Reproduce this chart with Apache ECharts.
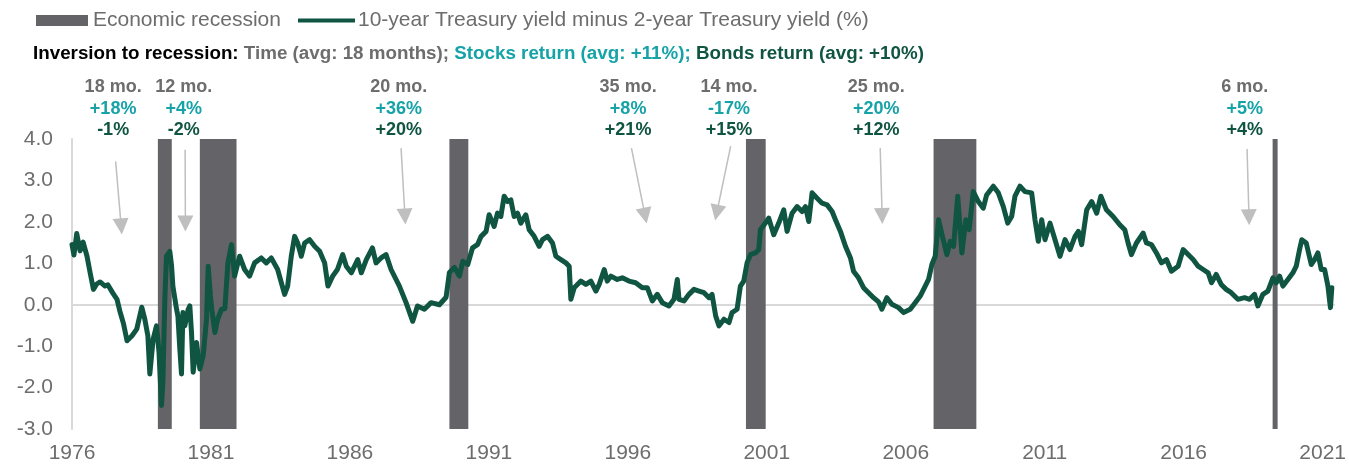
<!DOCTYPE html>
<html>
<head>
<meta charset="utf-8">
<script src="https://cdn.jsdelivr.net/npm/echarts@6/dist/echarts.min.js"></script>
<style>
html,body{margin:0;padding:0;background:#fff;}
#chart{width:1349px;height:464px;}
</style>
</head>
<body>
<div id="chart"></div>
<script>
// ---------------- DATA ----------------
const startYear = 1976;
const xTickLabels = ['1976','1981','1986','1991','1996','2001','2006','2011','2016','2021'];
const yTickLabels = ['-3.0','-2.0','-1.0','0.0','1.0','2.0','3.0','4.0'];

// decimal year (on the chart's label scale) and 10y-2y spread (%)
const dates = [
1976.00,1976.07,1976.17,1976.29,1976.40,1976.54,1976.65,1976.77,1976.89,1977.01,
1977.19,1977.29,1977.47,1977.62,1977.72,1977.85,1977.98,1978.16,1978.33,1978.51,
1978.62,1978.73,1978.80,1978.92,1979.04,1979.13,1979.22,1979.27,1979.34,1979.40,
1979.52,1979.58,1979.63,1979.76,1979.81,1979.88,1979.94,1979.99,1980.06,1980.18,
1980.24,1980.30,1980.36,1980.48,1980.60,1980.72,1980.84,1980.90,1980.98,1981.03,
1981.14,1981.24,1981.38,1981.50,1981.61,1981.74,1981.85,1982.03,1982.21,1982.39,
1982.57,1982.81,1982.99,1983.17,1983.40,1983.65,1983.76,1983.89,1984.01,1984.12,
1984.25,1984.37,1984.55,1984.73,1984.91,1985.09,1985.21,1985.38,1985.55,1985.74,
1985.87,1986.05,1986.28,1986.41,1986.59,1986.81,1986.94,1987.12,1987.30,1987.48,
1987.78,1988.02,1988.26,1988.43,1988.68,1988.92,1989.22,1989.46,1989.58,1989.76,
1989.94,1990.06,1990.24,1990.41,1990.59,1990.72,1990.90,1991.01,1991.19,1991.31,
1991.43,1991.55,1991.67,1991.79,1991.91,1992.03,1992.15,1992.33,1992.45,1992.63,
1992.81,1992.93,1993.11,1993.29,1993.41,1993.59,1993.77,1993.89,1993.95,1994.07,
1994.31,1994.49,1994.67,1994.85,1994.97,1995.15,1995.26,1995.39,1995.62,1995.80,
1996.04,1996.28,1996.52,1996.70,1996.88,1997.06,1997.24,1997.48,1997.66,1997.78,
1997.84,1998.02,1998.20,1998.38,1998.56,1998.74,1998.92,1999.03,1999.16,1999.28,
1999.46,1999.64,1999.75,1999.93,2000.05,2000.17,2000.29,2000.41,2000.59,2000.71,
2000.77,2000.95,2001.07,2001.25,2001.43,2001.61,2001.73,2001.91,2002.09,2002.27,
2002.39,2002.51,2002.63,2002.81,2002.99,2003.17,2003.35,2003.47,2003.65,2003.83,
2004.01,2004.12,2004.30,2004.48,2004.66,2004.84,2005.02,2005.14,2005.32,2005.50,
2005.74,2005.92,2006.16,2006.34,2006.52,2006.70,2006.82,2006.94,2007.06,2007.18,
2007.29,2007.48,2007.60,2007.72,2007.87,2008.02,2008.16,2008.28,2008.43,2008.61,
2008.79,2008.91,2009.15,2009.33,2009.51,2009.67,2009.81,2009.93,2010.11,2010.29,
2010.53,2010.65,2010.77,2010.89,2011.01,2011.19,2011.37,2011.55,2011.73,2011.91,
2012.09,2012.21,2012.33,2012.51,2012.69,2012.87,2013.02,2013.22,2013.46,2013.70,
2013.88,2014.00,2014.12,2014.30,2014.54,2014.66,2014.84,2015.02,2015.20,2015.38,
2015.56,2015.80,2015.98,2016.16,2016.34,2016.52,2016.70,2016.88,2017.00,2017.17,
2017.35,2017.53,2017.71,2017.95,2018.19,2018.37,2018.55,2018.67,2018.85,2019.03,
2019.21,2019.33,2019.45,2019.57,2019.75,2019.93,2020.05,2020.17,2020.25,2020.41,
2020.59,2020.71,2020.83,2020.95,2021.07,2021.19,2021.28,2021.33
];
const spread = [
1.45,1.20,1.72,1.30,1.51,1.17,0.78,0.37,0.50,0.55,
0.45,0.48,0.28,0.13,-0.15,-0.45,-0.87,-0.75,-0.59,-0.06,
-0.35,-0.75,-1.67,-0.83,-0.51,-1.14,-2.43,-1.87,0.13,1.17,
1.29,0.96,0.45,-0.10,-0.27,-1.07,-1.67,-0.19,-0.51,-0.11,
-0.03,-0.67,-1.63,-0.91,-1.55,-1.23,-0.35,0.93,0.21,-0.11,
-0.67,-0.35,-0.11,-0.10,1.01,1.45,0.69,1.17,0.85,0.69,
1.01,1.13,1.01,1.13,0.85,0.25,0.45,1.17,1.65,1.49,
1.17,1.49,1.57,1.41,1.29,1.01,0.45,0.69,0.85,1.21,
0.93,0.77,1.09,0.77,1.09,1.37,1.01,1.13,1.21,0.85,
0.45,0.05,-0.40,-0.03,-0.11,0.05,0.00,0.18,0.78,0.90,
0.69,1.05,0.97,1.37,1.45,1.65,1.77,2.17,1.89,2.21,
2.13,2.62,2.49,2.53,2.13,2.21,1.97,2.17,1.81,1.65,
1.41,1.57,1.65,1.49,1.17,1.09,1.01,0.93,0.13,0.41,
0.57,0.49,0.57,0.33,0.49,0.85,0.57,0.69,0.61,0.65,
0.57,0.53,0.41,0.41,0.09,0.25,0.05,-0.03,0.13,0.61,
0.13,0.09,0.25,0.37,0.33,0.29,0.17,0.25,-0.27,-0.51,
-0.35,-0.43,-0.19,-0.11,0.45,0.57,1.01,1.21,1.25,1.33,
1.81,1.97,2.09,1.69,1.97,2.29,1.77,2.21,2.37,2.25,
2.37,2.01,2.70,2.57,2.45,2.41,2.25,2.05,1.77,1.41,
1.13,0.81,0.65,0.41,0.29,0.17,0.07,-0.11,0.17,0.01,
-0.07,-0.19,-0.11,0.05,0.21,0.45,0.61,0.97,1.17,2.05,
1.73,1.21,1.53,1.41,2.62,1.25,2.05,1.81,2.73,2.49,
2.33,2.65,2.86,2.70,2.37,1.97,2.13,2.62,2.86,2.73,
2.70,2.05,1.53,2.05,1.57,1.97,1.57,1.17,1.57,1.33,
1.65,1.77,1.45,2.29,2.49,2.21,2.62,2.29,2.13,1.93,
1.81,1.49,1.21,1.49,1.73,1.49,1.45,1.25,1.01,1.09,
0.81,0.93,1.33,1.21,1.09,0.93,0.85,0.77,0.53,0.73,
0.49,0.37,0.29,0.13,0.17,0.13,0.25,-0.03,0.25,0.33,
0.65,0.53,0.69,0.45,0.61,0.77,0.93,1.33,1.57,1.49,
0.97,1.09,1.25,0.85,0.85,0.45,-0.07,0.41
];

// recession periods (same label scale as dates)
const recessionStart = [1979.09, 1980.60, 1989.58, 2000.25, 2007.00, 2019.20];
const recessionEnd   = [1979.59, 1981.92, 1990.26, 2000.96, 2008.54, 2019.38];

// inversion-to-recession annotations
const annoTime   = ['18 mo.','12 mo.','20 mo.','35 mo.','14 mo.','25 mo.','6 mo.'];
const annoStocks = ['+18%','+4%','+36%','+8%','-17%','+20%','+5%'];
const annoBonds  = ['-1%','-2%','+20%','+21%','+15%','+12%','+4%'];

const legendNames = ['Economic recession','10-year Treasury yield minus 2-year Treasury yield (%)'];

// ---------------- LAYOUT / STYLE ----------------
const annoX = [1977.48, 1980.02, 1987.76, 1996.01, 1999.64, 2004.94, 2018.20]; // label centres
// arrows: [fromYear, fromValue, toYear, toValue] (arrow head centre at "to")
const arrowPos = [
  [1977.57,3.46,1977.77,1.89],
  [1980.07,3.74,1980.08,1.96],
  [1987.84,3.78,1987.98,2.13],
  [1996.13,3.78,1996.62,2.15],
  [1999.70,3.83,1999.20,2.22],
  [2005.08,3.78,2005.15,2.14],
  [2018.28,3.76,2018.35,2.11]
];
const C_LINE = '#0f5541';
const C_REC = '#646368';
const C_GRAY = '#6d6d6d';
const C_TEAL = '#16a3a8';
const C_DKGREEN = '#0f5541';
const C_ARROW = '#bfbfbf';
const SANS = "'Liberation Sans',Arial,Helvetica,sans-serif";
const SUB = 18.8;
const xMax = 45.44;

const chart = echarts.init(document.getElementById('chart'), null, {renderer:'canvas'});

const lineData = dates.map((d,i)=>[d-startYear, spread[i]]);
const recAreas = recessionStart.map((s,i)=>[{xAxis:s-startYear},{xAxis:recessionEnd[i]-startYear}]);
const arrowData = arrowPos.map(a=>[{coord:[a[0]-startYear,a[1]]},{coord:[a[2]-startYear,a[3]]}]);

const option = {
  animation:false,
  backgroundColor:'#fff',
  title:{
    left:33, top:44, padding:0,
    text:'{k|Inversion to recession:} {g|Time (avg: 18 months);} {t|Stocks return (avg: +11%);} {d|Bonds return (avg: +10%)}',
    textStyle:{
      fontFamily:SANS, fontSize:SUB, fontWeight:'bold', color:'#000',
      rich:{
        k:{fontFamily:SANS, fontSize:SUB, fontWeight:'bold', color:'#000'},
        g:{fontFamily:SANS, fontSize:SUB, fontWeight:'bold', color:C_GRAY},
        t:{fontFamily:SANS, fontSize:SUB, fontWeight:'bold', color:C_TEAL},
        d:{fontFamily:SANS, fontSize:SUB, fontWeight:'bold', color:C_DKGREEN}
      }
    }
  },
  legend:[
    {data:[legendNames[0]], left:36, top:10, padding:0, icon:'rect', itemWidth:52, itemHeight:11,
     textStyle:{fontFamily:SANS, fontSize:21, color:C_GRAY, padding:[0,0,0,0]}},
    {data:[legendNames[1]], left:298, top:10, padding:0, icon:'rect', itemWidth:57, itemHeight:4,
     textStyle:{fontFamily:SANS, fontSize:21, color:C_GRAY, padding:[0,0,0,-2]}}
  ],
  grid:{left:72, right:12, top:139, bottom:34, containLabel:false},
  xAxis:{
    type:'value', min:0, max:xMax, interval:5,
    axisLine:{show:false}, axisTick:{show:false}, splitLine:{show:false},
    axisLabel:{
      margin:14, fontFamily:SANS, fontSize:21, color:C_GRAY, showMaxLabel:false,
      formatter:function(v){ const i=Math.round(v/5); return (Math.abs(v-i*5)<1e-6 && xTickLabels[i])?xTickLabels[i]:''; }
    }
  },
  yAxis:{
    type:'value', min:-3, max:4, interval:1,
    axisLine:{show:true, lineStyle:{color:'#d9d9d9', width:2}},
    axisTick:{show:false}, splitLine:{show:false},
    axisLabel:{
      margin:19, fontFamily:SANS, fontSize:21, color:C_GRAY,
      formatter:function(v){ const i=Math.round(v+3); return yTickLabels[i]||''; }
    }
  },
  series:[
    {
      type:'line', data:[], silent:true,
      markLine:{z:0, silent:true, symbol:['none','none'], label:{show:false},
        lineStyle:{color:'#d9d9d9', width:2, type:'solid'}, data:[{yAxis:0}]}
    },
    {
      name:legendNames[0], type:'line', data:[], silent:true,
      itemStyle:{color:C_REC}, lineStyle:{color:C_REC},
      markArea:{z:1, silent:true, itemStyle:{color:C_REC, opacity:1}, data:recAreas}
    },
    {
      name:legendNames[1], type:'line', data:lineData, z:2,
      symbol:'none', showSymbol:false, smooth:false,
      lineStyle:{color:C_LINE, width:5, join:'round', cap:'round'},
      itemStyle:{color:C_LINE}
    },
    {
      type:'line', data:[], silent:true, itemStyle:{color:C_ARROW},
      markLine:{z:5, silent:true, symbol:['none','triangle'], symbolSize:16,
        label:{show:false}, lineStyle:{color:C_ARROW, width:1.5, type:'solid', opacity:1},
        itemStyle:{color:C_ARROW},
        data:arrowData}
    }
  ]
};
chart.setOption(option);

// annotation labels above the plot, centred on their years
const graphics = annoTime.map((t,i)=>{
  const px = chart.convertToPixel({gridIndex:0},[annoX[i]-startYear,0])[0];
  return {
    type:'text', x:px, y:76, silent:true,
    style:{
      text:'{a|'+t+'}\n{b|'+annoStocks[i]+'}\n{c|'+annoBonds[i]+'}',
      align:'center', verticalAlign:'top',
      rich:{
        a:{fontFamily:SANS, fontSize:18, fontWeight:'bold', fill:C_GRAY, lineHeight:21.7, align:'center'},
        b:{fontFamily:SANS, fontSize:18, fontWeight:'bold', fill:C_TEAL, lineHeight:21.7, align:'center'},
        c:{fontFamily:SANS, fontSize:18, fontWeight:'bold', fill:C_DKGREEN, lineHeight:21.7, align:'center'}
      }
    }
  };
});
chart.setOption({graphic:graphics});
</script>
</body>
</html>
